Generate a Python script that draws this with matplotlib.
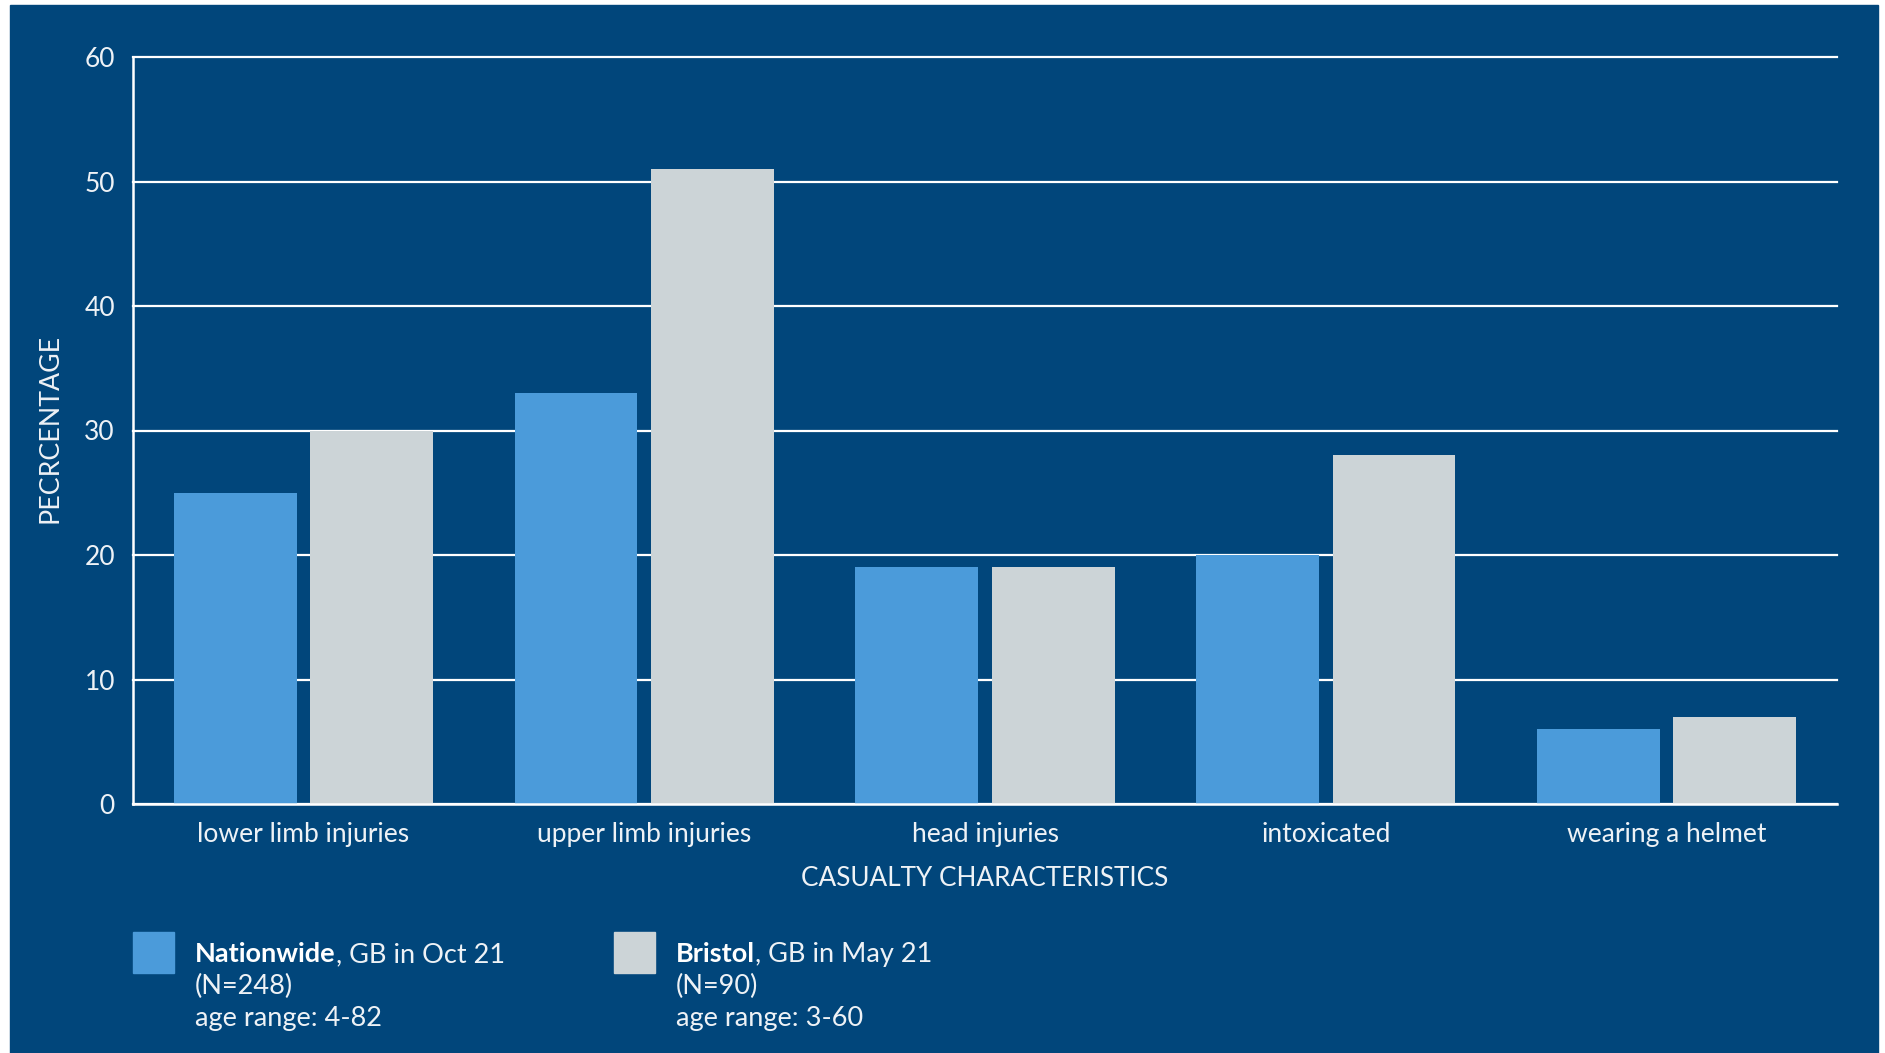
import numpy as np
import matplotlib.pyplot as plt
from matplotlib.patches import Rectangle

categories = ['lower limb injuries', 'upper limb injuries', 'head injuries', 'intoxicated', 'wearing a helmet']
nationwide = [25, 33, 19, 20, 6]
bristol = [30, 51, 19, 28, 7]
yticks = [0, 10, 20, 30, 40, 50, 60]

legend_bold = ['Nationwide', 'Bristol']
legend_rest = [', GB in Oct 21', ', GB in May 21']
legend_n = ['(N=248)', '(N=90)']
legend_age = ['age range: 4-82', 'age range: 3-60']

BG = '#01467B'
BLUE = '#4B9BDA'
GREY = '#CCD4D7'
TXT = '#EEF2F6'
FONT = 'Lato'

W, H = 1885, 1053
fig = plt.figure(figsize=(W / 100, H / 100), dpi=100, facecolor='white')
fig.patches.append(Rectangle((10 / W, 0), (1878 - 10) / W, (H - 5) / H,
                             transform=fig.transFigure, color=BG, zorder=-5))

ax = fig.add_axes([133 / W, 1 - 804 / H, (1837 - 133) / W, (804 - 57) / H])
ax.set_facecolor('none')

x = np.arange(len(categories))
ax.bar(x - 0.2, nationwide, 0.36, color=BLUE, zorder=3)
ax.bar(x + 0.2, bristol, 0.36, color=GREY, zorder=3)

ax.set_xlim(-0.5, 4.5)
ax.set_ylim(0, 60)
ax.set_yticks(yticks)
ax.set_xticks(x)
ax.set_xticklabels(categories)
ax.grid(axis='y', color='white', linewidth=1.6, zorder=1)
ax.set_axisbelow(True)
for gl in ax.get_ygridlines():
    gl.set_clip_on(False)

for s in ['top', 'right']:
    ax.spines[s].set_visible(False)
for s in ['left', 'bottom']:
    ax.spines[s].set_color('white')
    ax.spines[s].set_linewidth(1.8)
    ax.spines[s].set_zorder(4)

ax.tick_params(axis='both', length=0, labelsize=19, labelcolor=TXT)
ax.tick_params(axis='y', pad=13)
ax.tick_params(axis='x', pad=13)
for lab in ax.get_xticklabels() + ax.get_yticklabels():
    lab.set_fontfamily(FONT)

fig.text(985 / W, 1 - 879 / H, 'CASUALTY CHARACTERISTICS', ha='center', va='center',
         color=TXT, fontsize=18.8, family=FONT)
fig.text(50 / W, 1 - 428 / H, 'PECRCENTAGE', ha='center', va='center', rotation=90,
         color=TXT, fontsize=19.3, family=FONT)

# legend built by hand
renderer = fig.canvas.get_renderer()
box_x = [133, 614]
txt_x = [195, 676]
colors = [BLUE, GREY]
for i in range(2):
    fig.patches.append(Rectangle((box_x[i] / W, 1 - 973 / H), 41 / W, 41 / H,
                                 transform=fig.transFigure, color=colors[i]))
    t = fig.text(txt_x[i] / W, 1 - 962 / H, legend_bold[i], ha='left', va='baseline',
                 color='white', fontsize=19.5, family=FONT, weight='bold')
    bb = t.get_window_extent(renderer)
    fig.text(bb.x1 / W, 1 - 962 / H, legend_rest[i], ha='left', va='baseline',
             color=TXT, fontsize=19.5, family=FONT)
    fig.text(txt_x[i] / W, 1 - 994 / H, legend_n[i], ha='left', va='baseline',
             color=TXT, fontsize=19.5, family=FONT)
    fig.text(txt_x[i] / W, 1 - 1026 / H, legend_age[i], ha='left', va='baseline',
             color=TXT, fontsize=19.5, family=FONT)

fig.savefig('out.png', dpi=100, facecolor='white')
